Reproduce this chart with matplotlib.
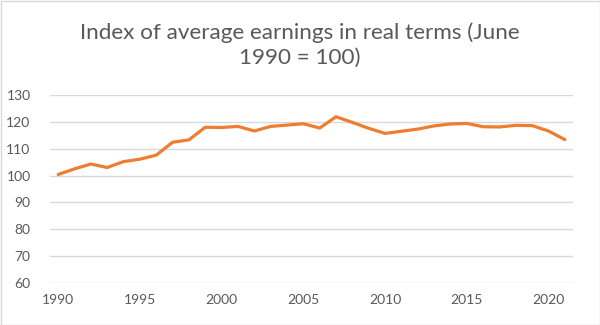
import matplotlib
matplotlib.use("Agg")
import matplotlib.pyplot as plt
from matplotlib.patches import Rectangle

# data
years = list(range(1990, 2022))
index_values = [100.4, 102.5, 104.3, 103.0, 105.2, 106.1, 107.6, 112.4, 113.3, 118.0,
                117.9, 118.3, 116.6, 118.3, 118.8, 119.3, 117.7, 121.9, 119.8, 117.6,
                115.7, 116.5, 117.3, 118.5, 119.2, 119.4, 118.2, 118.1, 118.7, 118.6,
                116.6, 113.4]
y_ticks = [60, 70, 80, 90, 100, 110, 120, 130]
x_ticks = [1990, 1995, 2000, 2005, 2010, 2015, 2020]
title = "Index of average earnings in real terms (June\n1990 = 100)"

plt.rcParams['font.family'] = ['Lato', 'DejaVu Sans']
grey = "#595959"

fig = plt.figure(figsize=(6, 3.25), dpi=100)
ax = fig.add_axes([50/600, 1-283/325, 523/600, 188/325])

ax.plot(years, index_values, color="#ED7D31", lw=2.3, solid_capstyle="round",
        solid_joinstyle="round", zorder=3)

ax.set_xlim(1989.5, 2021.5)
ax.set_ylim(60, 130)
ax.set_yticks(y_ticks)
ax.set_xticks(x_ticks)
ax.grid(axis="y", color="#d9d9d9", lw=1)
ax.tick_params(length=0, labelsize=10, labelcolor=grey)
ax.tick_params(axis="y", pad=14)
ax.tick_params(axis="x", pad=8)
for s in ax.spines.values():
    s.set_visible(False)

fig.text(0.5, 1-45/325, title, ha="center", va="center", fontsize=16.2,
         color=grey, linespacing=1.3)

fig.patches.append(Rectangle((0.5/600, 0.5/325), 599/600, 324/325, transform=fig.transFigure,
                             fill=False, edgecolor="#d9d9d9", lw=1))

fig.savefig("out.png", dpi=100)
